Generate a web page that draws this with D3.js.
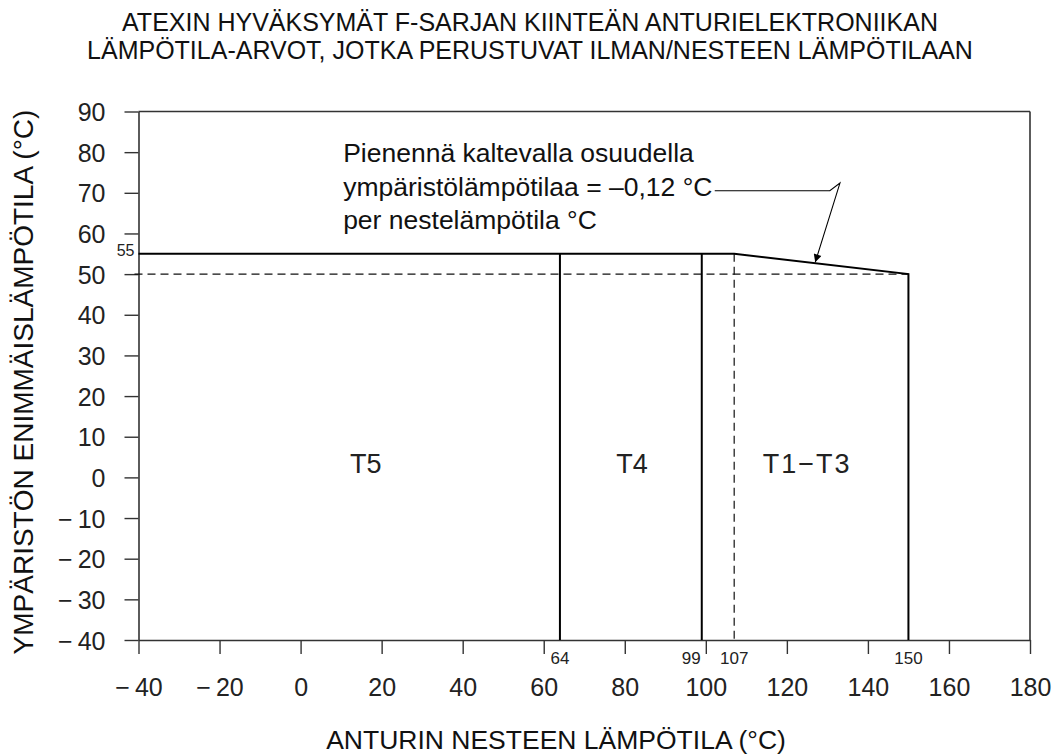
<!DOCTYPE html>
<html>
<head>
<meta charset="utf-8">
<script src="https://cdn.jsdelivr.net/npm/d3@7"></script>
<style>
  html, body { margin: 0; padding: 0; background: #fff; }
  svg { display: block; font-family: "Liberation Sans", Arial, Helvetica, sans-serif; }
</style>
</head>
<body>
<svg id="chart" width="1061" height="754"></svg>
<script>
// ---- data ----
const titleLines = [
  "ATEXIN HYVÄKSYMÄT F-SARJAN KIINTEÄN ANTURIELEKTRONIIKAN",
  "LÄMPÖTILA-ARVOT, JOTKA PERUSTUVAT ILMAN/NESTEEN LÄMPÖTILAAN"
];
const xAxisTitle = "ANTURIN NESTEEN LÄMPÖTILA (°C)";
const yAxisTitle = "YMPÄRISTÖN ENIMMÄISLÄMPÖTILA (°C)";
const xTicks = [-40, -20, 0, 20, 40, 60, 80, 100, 120, 140, 160, 180];
const yTicks = [-40, -30, -20, -10, 0, 10, 20, 30, 40, 50, 60, 70, 80, 90];
const xDomain = [-40, 180];
const yDomain = [-40, 90];
// limit curve (process temperature, max ambient temperature)
const limitCurve = [[-40, 55], [107, 55], [150, 50], [150, -40]];
// class boundaries (solid verticals from 55 down to -40)
const classBoundaries = [64, 99];
const dashedVertical = 107;
const dashedLevel = 50;
const markedValuesX = [64, 99, 107, 150];
const markedAnchors = ["middle", "end", "middle", "middle"];
const markedValueY = 55;
const zoneLabels = ["T5", "T4", "T1−T3"];
const zoneLabelX = [16.1, 81.8, 125];
const zoneLabelY = 3.3;
const noteLines = [
  "Pienennä kaltevalla osuudella",
  "ympäristölämpötilaa = –0,12 °C",
  "per nestelämpötila °C"
];
const noteX = 10.5;
const noteY = [77.7, 69.3, 61.2];
// leader from note to sloped segment (data coords)
const leaderPts = [[102.2, 70.5], [130.6, 70.5], [133.1, 72.4], [127, 52.9]];

// ---- layout ----
const svg = d3.select("#chart");
const x = d3.scaleLinear().domain(xDomain).range([138.5, 1030]);
const y = d3.scaleLinear().domain(yDomain).range([640, 111.5]);
const axisColor = "#333";
const fmt = v => (v < 0 ? "−" + "\u2009" + Math.abs(v) : String(v));

// title
svg.append("g").selectAll("text").data(titleLines).join("text")
  .attr("x", 530).attr("y", (d, i) => 31 + i * 28)
  .attr("text-anchor", "middle").attr("font-size", 25).attr("fill", "#111")
  .text(d => d);

// frame top & right
svg.append("line").attr("x1", x(-40)).attr("x2", x(180)).attr("y1", y(90)).attr("y2", y(90))
  .attr("stroke", axisColor).attr("stroke-width", 1.6);
svg.append("line").attr("x1", x(180)).attr("x2", x(180)).attr("y1", y(90)).attr("y2", y(-40))
  .attr("stroke", axisColor).attr("stroke-width", 1.6);

// x axis
const gx = svg.append("g").attr("transform", `translate(0,${y(-40)})`)
  .call(d3.axisBottom(x).tickValues(xTicks).tickSize(14).tickSizeOuter(0).tickFormat(fmt));
gx.select(".domain").attr("stroke", axisColor).attr("stroke-width", 1.6);
gx.selectAll(".tick line").attr("stroke", axisColor).attr("stroke-width", 1.4);
gx.selectAll(".tick text").attr("font-size", 25).attr("fill", "#222")
  .attr("font-family", "'Liberation Sans', Arial, sans-serif")
  .attr("y", 38).attr("dy", "0.71em");

// y axis
const gy = svg.append("g").attr("transform", `translate(${x(-40)},0)`)
  .call(d3.axisLeft(y).tickValues(yTicks).tickSize(14).tickSizeOuter(0).tickFormat(fmt));
gy.select(".domain").attr("stroke", axisColor).attr("stroke-width", 1.6);
gy.selectAll(".tick line").attr("stroke", axisColor).attr("stroke-width", 1.4);
gy.selectAll(".tick text").attr("font-size", 25).attr("fill", "#222")
  .attr("font-family", "'Liberation Sans', Arial, sans-serif")
  .attr("x", -33).attr("dy", "0.36em");

// axis titles
svg.append("text").attr("x", 556).attr("y", 749).attr("text-anchor", "middle")
  .attr("font-size", 26.5).attr("fill", "#111").text(xAxisTitle);
svg.append("text").attr("transform", `translate(33,${382}) rotate(-90)`)
  .attr("text-anchor", "middle").attr("font-size", 28).attr("fill", "#111").text(yAxisTitle);

// dashed references
svg.append("line").attr("x1", x(-40) - 4).attr("x2", x(150)).attr("y1", y(dashedLevel)).attr("y2", y(dashedLevel))
  .attr("stroke", "#111").attr("stroke-width", 1.2).attr("stroke-dasharray", "8,5");
svg.append("line").attr("x1", x(dashedVertical)).attr("x2", x(dashedVertical)).attr("y1", y(55)).attr("y2", y(-40))
  .attr("stroke", "#111").attr("stroke-width", 1.2).attr("stroke-dasharray", "8,5");

// class boundaries
svg.append("g").selectAll("line").data(classBoundaries).join("line")
  .attr("x1", d => x(d)).attr("x2", d => x(d)).attr("y1", y(55)).attr("y2", y(-40))
  .attr("stroke", "#000").attr("stroke-width", 2);

// limit curve
svg.append("path").datum(limitCurve)
  .attr("d", d3.line().x(d => x(d[0])).y(d => y(d[1])))
  .attr("fill", "none").attr("stroke", "#000").attr("stroke-width", 2);

// value labels
svg.append("text").attr("x", x(-40) - 4).attr("y", y(markedValueY) + 2).attr("text-anchor", "end")
  .attr("font-size", 16).attr("fill", "#222").text(markedValueY);
svg.append("g").selectAll("text").data(markedValuesX).join("text")
  .attr("x", (d, i) => x(d) + (markedAnchors[i] === "end" ? -1 : 0))
  .attr("y", 664).attr("text-anchor", (d, i) => markedAnchors[i])
  .attr("font-size", 17).attr("fill", "#222").text(d => d);

// zone labels
svg.append("g").selectAll("text").data(zoneLabels).join("text")
  .attr("x", (d, i) => x(zoneLabelX[i])).attr("y", y(zoneLabelY)).attr("dy", "0.35em")
  .attr("text-anchor", "middle").attr("font-size", 27).attr("fill", "#222")
  .attr("letter-spacing", (d, i) => (i === 2 ? 2 : 0))
  .text(d => d);

// note
svg.append("g").selectAll("text").data(noteLines).join("text")
  .attr("x", x(noteX)).attr("y", (d, i) => y(noteY[i]))
  .attr("font-size", 26.5).attr("fill", "#111").text(d => d);

// leader + arrow
svg.append("defs").append("marker").attr("id", "arr")
  .attr("viewBox", "0 0 10 10").attr("refX", 10).attr("refY", 5)
  .attr("markerWidth", 16).attr("markerHeight", 8).attr("markerUnits", "userSpaceOnUse")
  .attr("orient", "auto")
  .append("path").attr("d", "M0,0 L10,5 L0,10 Z").attr("fill", "#000");
svg.append("path").datum(leaderPts)
  .attr("d", d3.line().x(d => x(d[0])).y(d => y(d[1])))
  .attr("fill", "none").attr("stroke", "#000").attr("stroke-width", 1.1)
  .attr("marker-end", "url(#arr)");
</script>
</body>
</html>
